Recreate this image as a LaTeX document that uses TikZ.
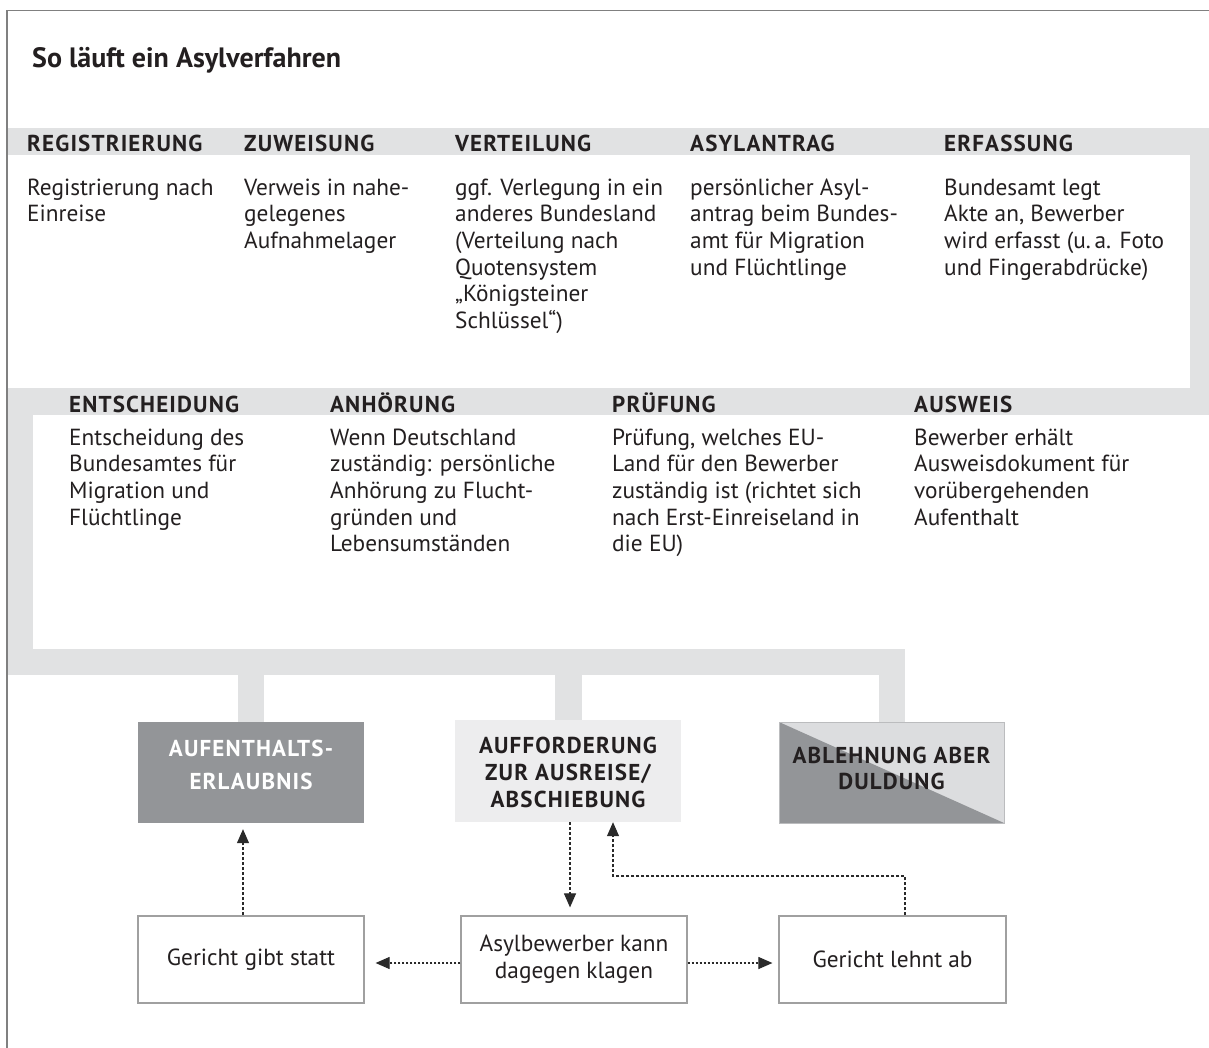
\documentclass[tikz,border=0pt]{standalone}
\usepackage{fontspec}
\setmainfont{PT Sans}
\newfontfamily\capsfont[LetterSpace=5]{PT Sans}
\usetikzlibrary{arrows.meta}
\definecolor{band}{HTML}{E1E2E3}
\definecolor{dark}{HTML}{939598}
\definecolor{lightbox}{HTML}{EDEDEE}
\definecolor{ablight}{HTML}{DCDDDF}
\definecolor{ink}{HTML}{231F20}
\definecolor{framec}{HTML}{808080}
\definecolor{boxline}{HTML}{A0A0A0}
\definecolor{arrowc}{HTML}{2A2A2A}
\begin{document}
\begin{tikzpicture}[x=1pt,y=-1pt,
  head/.style={anchor=base west, inner sep=0pt, font=\fontsize{23}{27}\capsfont\bfseries, text=ink},
  body/.style={anchor=north west, inner sep=0pt, align=left, font=\fontsize{23.3}{26.6}\selectfont, text=ink},
  resultbox/.style={minimum width=226pt, minimum height=101pt, inner sep=0pt},
  lab/.style={anchor=north, inner sep=0pt, align=center},
  courtbox/.style={draw=boxline, line width=1.2pt, fill=white, minimum width=226pt, minimum height=87pt, inner sep=0pt, align=center, font=\fontsize{23.3}{27}\selectfont, text=ink},
  flow/.style={draw=arrowc, line width=1.1pt, -{Triangle[length=14pt,width=12pt]}},
  vdash/.style={dash pattern=on 3pt off 2pt},
  hdash/.style={dash pattern=on 2pt off 2pt}
]
\useasboundingbox[fill=white] (0,0) rectangle (1209,1048);

% grey process band
\fill[band] (7,128) rectangle (1209,155);
\fill[band] (1190,128) rectangle (1209,415);
\fill[band] (7,388) rectangle (1209,415);
\fill[band] (7,388) rectangle (33,675);
\fill[band] (7,649) rectangle (905,675);
\fill[band] (238,675) rectangle (264,722);
\fill[band] (555,675) rectangle (582,722);
\fill[band] (879,675) rectangle (905,722);

% frame
\draw[framec, line width=1.5pt] (7,1050) -- (7,10.5) -- (1212,10.5);

% title
\node[anchor=base west, inner sep=0pt, font=\fontsize{28}{32}\selectfont\bfseries, text=ink] (title) at (32,68) {So läuft ein Asylverfahren};

% row 1
\node[head] (h1) at (27,152) {REGISTRIERUNG};
\node[head] (h2) at (244,152) {ZUWEISUNG};
\node[head] (h3) at (455,152) {VERTEILUNG};
\node[head] (h4) at (690,152) {ASYLANTRAG};
\node[head] (h5) at (944,152) {ERFASSUNG};

\node[body] (t1) at (27,176.4) {\strut Registrierung nach\\Einreise};
\node[body] (t2) at (244,176.4) {\strut Verweis in nahe-\\gelegenes\\Aufnahmelager};
\node[body] (t3) at (455,176.4) {\strut ggf. Verlegung in ein\\anderes Bundesland\\(Verteilung nach\\Quotensystem\\„Königsteiner\\Schlüssel“)};
\node[body] (t4) at (690,176.4) {\strut persönlicher Asyl-\\antrag beim Bundes-\\amt für Migration\\und Flüchtlinge};
\node[body] (t5) at (944,176.4) {\strut Bundesamt legt\\Akte an, Bewerber\\wird erfasst (u.\,a. Foto\\und Fingerabdrücke)};

% row 2
\node[head] (h6) at (69,412) {ENTSCHEIDUNG};
\node[head] (h7) at (330,412) {ANHÖRUNG};
\node[head] (h8) at (612,412) {PRÜFUNG};
\node[head] (h9) at (914,412) {AUSWEIS};

\node[body] (t6) at (69,426.4) {\strut Entscheidung des\\Bundesamtes für\\Migration und\\Flüchtlinge};
\node[body] (t7) at (330,426.4) {\strut Wenn Deutschland\\zuständig: persönliche\\Anhörung zu Flucht-\\gründen und\\Lebensumständen};
\node[body] (t8) at (612,426.4) {\strut Prüfung, welches EU-\\Land für den Bewerber\\zuständig ist (richtet sich\\nach Erst-Einreiseland in\\die EU)};
\node[body] (t9) at (914,426.4) {\strut Bewerber erhält\\Ausweisdokument für\\vorübergehenden\\Aufenthalt};

% result boxes
\node[resultbox, fill=dark] (auf) at (251,772.5) {};
\node[lab, text=white, font=\fontsize{23}{33}\capsfont\bfseries] (aufl) at (251,733) {\strut AUFENTHALTS-\\ERLAUBNIS};

\node[resultbox, fill=lightbox, minimum height=102pt] (aff) at (568,771) {};
\node[lab, text=ink, font=\fontsize{23}{27}\capsfont\bfseries] (affl) at (568,734.1) {\strut AUFFORDERUNG\\ZUR AUSREISE/\\ABSCHIEBUNG};

\node[resultbox, minimum width=225pt, fill=ablight, draw=ablight!85!black, line width=0.6pt,
  path picture={\fill[dark] (path picture bounding box.north west) -- (path picture bounding box.south east) -- (path picture bounding box.south west) -- cycle;}] (abl) at (891.5,772.5) {};
\node[lab, text=ink, font=\fontsize{23}{26.5}\capsfont\bfseries] (abll) at (891.5,744.5) {\strut ABLEHNUNG ABER\\DULDUNG};

% court boxes
\node[courtbox] (gg) at (251,959.5) {Gericht gibt statt};
\node[courtbox] (asyl) at (574,959.5) {Asylbewerber kann\\dagegen klagen};
\node[courtbox, minimum width=227pt] (lehnt) at (892.5,959.5) {Gericht lehnt ab};

% connectors
\draw[flow, vdash, shorten >=6pt] ([xshift=-8pt]gg.north) -- ([xshift=-8pt]auf.south);
\draw[flow, vdash, shorten >=8pt] ([xshift=2pt]aff.south) -- ([xshift=2pt]aff.south |- asyl.north);
\coordinate (bend) at (613,876);
\draw[flow, vdash] ([xshift=12.5pt]lehnt.north) |- (bend) -- (bend |- aff.south);
\draw[flow, hdash, shorten >=11pt] ([yshift=-3.5pt]asyl.west) -- ([yshift=-3.5pt]asyl.west -| gg.east);
\draw[flow, hdash, shorten >=6pt] ([yshift=-3.5pt]asyl.east) -- ([yshift=-3.5pt]asyl.east -| lehnt.west);
\end{tikzpicture}
\end{document}
